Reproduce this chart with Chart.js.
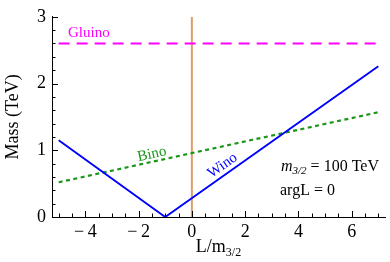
<!DOCTYPE html>
<html>
<head>
<meta charset="utf-8">
<script src="https://cdn.jsdelivr.net/npm/chart.js@4.4.1/dist/chart.umd.min.js"></script>
<style>
  html, body { margin: 0; padding: 0; background: #fff; }
  #wrap { width: 390px; height: 262px; }
</style>
</head>
<body>
<div id="wrap"><canvas id="chart"></canvas></div>
<script>
"use strict";

// values
const winoL = [-5, -1, 7];
const winoMass = [1.15, 0, 2.26];
const binoL = [-5, 7];
const binoMass = [0.52, 1.57];
const gluinoL = [-5, 7];
const gluinoMass = [2.6, 2.6];
const markerL = [0, 0];
const markerMass = [0, 3];
const xTicks = [-4, -2, 0, 2, 4, 6];
const yTicks = [0, 1, 2, 3];

const serif = "'Liberation Serif', 'DejaVu Serif', serif";

function toPoints(xs, ys) {
  return xs.map((x, i) => ({ x: x, y: ys[i] }));
}

function fmt(v) {
  return v < 0 ? "\u2212\u2009" + Math.abs(v) : String(v);
}

// inward ticks, line labels and the x title with subscript
const extras = {
  id: "extras",
  afterDraw(chart) {
    const ctx = chart.ctx;
    const xs = chart.scales.x;
    const ys = chart.scales.y;
    const area = chart.chartArea;
    ctx.save();
    ctx.strokeStyle = "#000";
    ctx.lineWidth = 1;
    ctx.beginPath();
    for (let i = 0; i <= 15; i++) {
      const py = Math.round(ys.getPixelForValue(i / 5)) + 0.5;
      const len = i % 5 === 0 ? 6 : 3.5;
      ctx.moveTo(area.left, py);
      ctx.lineTo(area.left + len, py);
    }
    for (let i = -10; i <= 14; i++) {
      const px = Math.round(xs.getPixelForValue(i / 2)) + 0.5;
      const len = i % 4 === 0 ? 6 : 3.5;
      ctx.moveTo(px, area.bottom);
      ctx.lineTo(px, area.bottom - len);
    }
    ctx.stroke();

    // Gluino
    ctx.fillStyle = "#ff00ff";
    ctx.font = "15px " + serif;
    ctx.textBaseline = "middle";
    ctx.textAlign = "left";
    ctx.fillText("Gluino", xs.getPixelForValue(-4.65), ys.getPixelForValue(2.75));

    // rotated labels along the lines
    function slanted(text, color, lx, my, x0, y0, x1, y1) {
      const ang = Math.atan2(ys.getPixelForValue(y1) - ys.getPixelForValue(y0),
        xs.getPixelForValue(x1) - xs.getPixelForValue(x0));
      ctx.save();
      ctx.translate(xs.getPixelForValue(lx), ys.getPixelForValue(my));
      ctx.rotate(ang);
      ctx.fillStyle = color;
      ctx.font = "15px " + serif;
      ctx.textAlign = "center";
      ctx.textBaseline = "middle";
      ctx.fillText(text, 0, 0);
      ctx.restore();
    }
    slanted("Bino", "#1a961a", -1.5, 0.94, binoL[0], binoMass[0], binoL[1], binoMass[1]);
    slanted("Wino", "#0000ff", 1.15, 0.77, winoL[1], winoMass[1], winoL[2], winoMass[2]);

    // m3/2 = 100 TeV, argL = 0
    ctx.fillStyle = "#000";
    ctx.textAlign = "left";
    ctx.textBaseline = "alphabetic";
    let x = 281;
    let y = 171;
    ctx.font = "italic 16px " + serif;
    ctx.fillText("m", x, y);
    x += ctx.measureText("m").width;
    ctx.font = "italic 11px " + serif;
    ctx.fillText("3/2", x, y + 3);
    x += ctx.measureText("3/2").width;
    ctx.font = "16px " + serif;
    ctx.fillText(" = 100 TeV", x, y);
    ctx.fillText("argL = 0", 280, 195);

    // x title
    ctx.font = "18px " + serif;
    const w1 = ctx.measureText("L/m").width;
    ctx.font = "12px " + serif;
    const w2 = ctx.measureText("3/2").width;
    let tx = (area.left + area.right) / 2 - (w1 + w2) / 2;
    ctx.font = "18px " + serif;
    ctx.fillText("L/m", tx, 252);
    ctx.font = "12px " + serif;
    ctx.fillText("3/2", tx + w1, 256);
    ctx.restore();
  }
};

const data = {
  datasets: [
    {
      label: "Wino",
      data: toPoints(winoL, winoMass),
      borderColor: "#0000ff",
      borderWidth: 1.9,
      pointRadius: 0,
      fill: false,
      tension: 0,
    },
    {
      label: "Bino",
      data: toPoints(binoL, binoMass),
      borderColor: "#1a961a",
      borderWidth: 2.2,
      borderDash: [4, 3.5],
      pointRadius: 0,
      fill: false,
    },
    {
      label: "Gluino",
      data: toPoints(gluinoL, gluinoMass),
      borderColor: "#ff00ff",
      borderWidth: 1.9,
      borderDash: [11, 7],
      pointRadius: 0,
      fill: false,
    },
    {
      label: "L = 0",
      data: toPoints(markerL, markerMass),
      borderColor: "#dba06a",
      borderWidth: 2,
      pointRadius: 0,
      fill: false,
    },
  ],
};

const config = {
  type: "line",
  data: data,
  options: {
    responsive: true,
    maintainAspectRatio: false,
    animation: false,
    layout: { padding: { top: 11, right: 5, left: 0, bottom: 0 } },
    plugins: { legend: { display: false }, tooltip: { enabled: false } },
    scales: {
      x: {
        type: "linear",
        min: -5.25,
        max: 7.25,
        grid: { display: false, drawTicks: false },
        border: { display: true, color: "#000", width: 1 },
        afterBuildTicks: (scale) => { scale.ticks = xTicks.map((v) => ({ value: v })); },
        afterFit: (scale) => { scale.height = 45; },
        ticks: {
          color: "#000",
          padding: 4,
          maxRotation: 0,
          font: { family: serif, size: 18 },
          callback: (v) => fmt(v),
        },
      },
      y: {
        type: "linear",
        min: 0,
        max: 3,
        grid: { display: false, drawTicks: false },
        border: { display: true, color: "#000", width: 1 },
        afterBuildTicks: (scale) => { scale.ticks = yTicks.map((v) => ({ value: v })); },
        afterFit: (scale) => { scale.width = 52; },
        ticks: {
          color: "#000",
          padding: 6,
          font: { family: serif, size: 18 },
          callback: (v) => fmt(v),
        },
        title: {
          display: true,
          text: "Mass (TeV)",
          color: "#000",
          padding: 2,
          font: { family: serif, size: 18 },
        },
      },
    },
  },
  plugins: [extras],
};

const massChart = new Chart(document.getElementById("chart"), config);
</script>
</body>
</html>
